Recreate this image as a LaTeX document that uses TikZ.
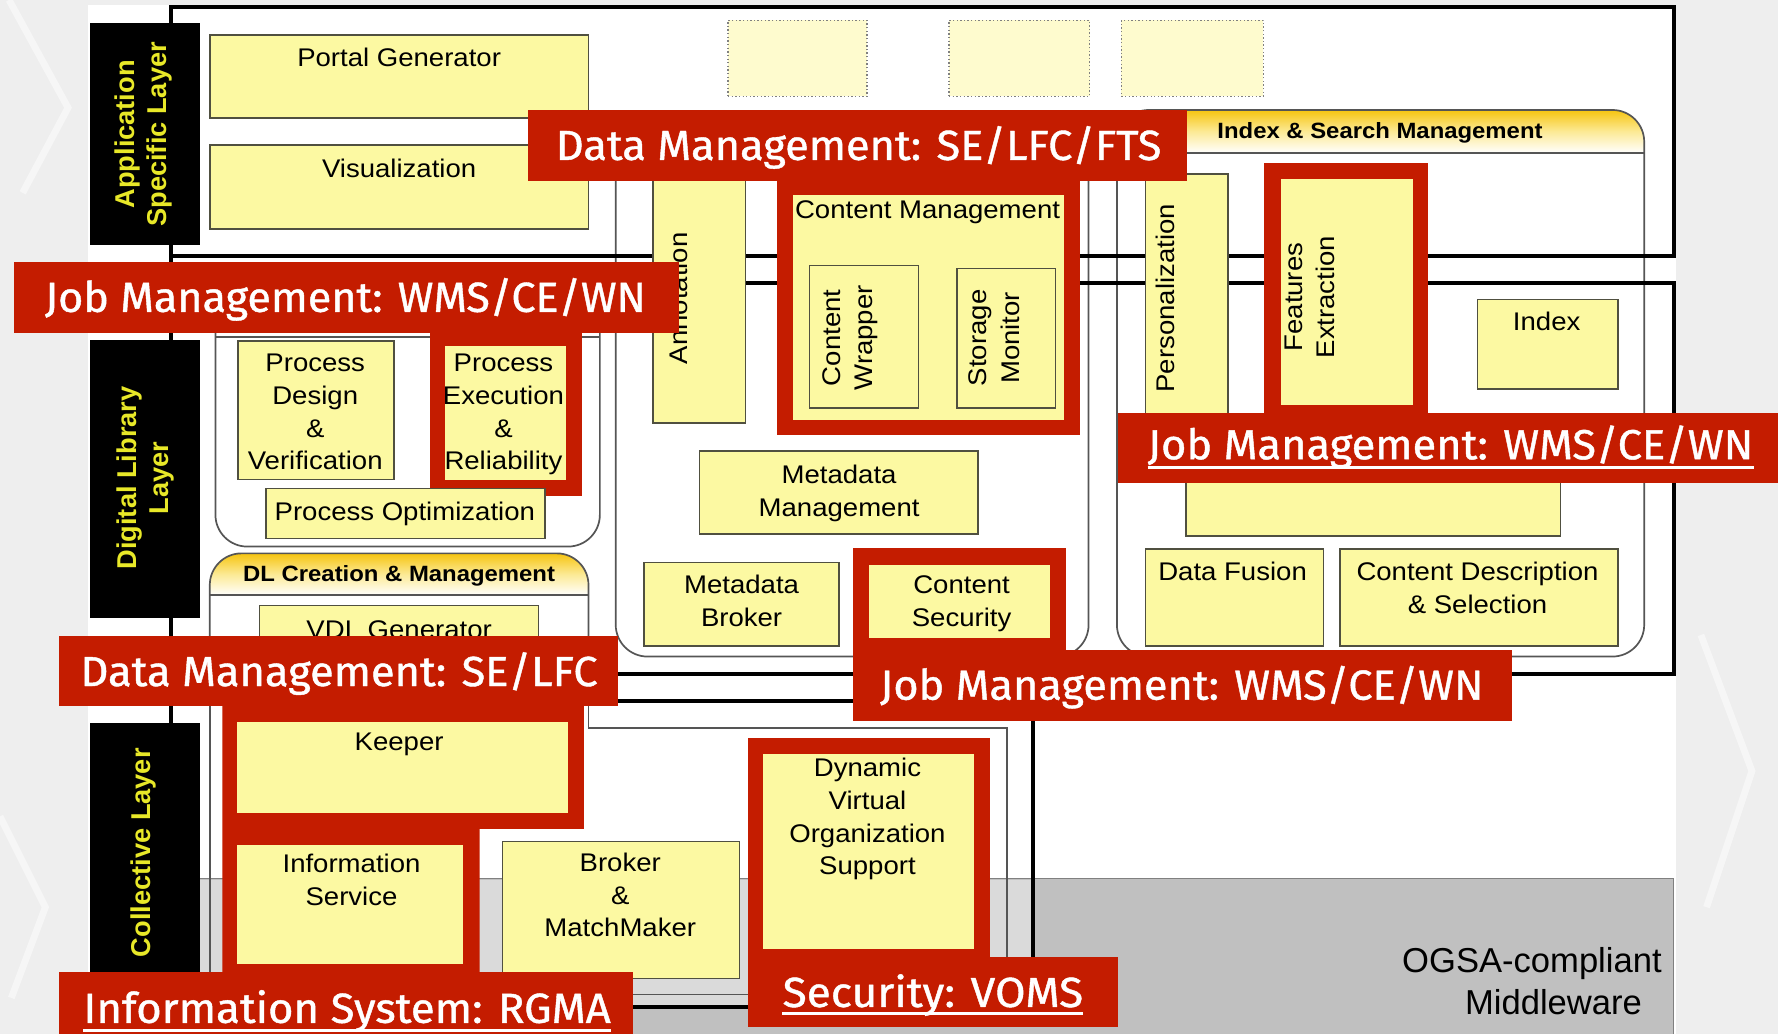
\documentclass[tikz,border=0pt]{standalone}
\usepackage{fontspec}
\setmainfont{Liberation Sans}[FakeStretch=1.08]
\newfontfamily\layfont{Liberation Sans}
\newfontfamily\lblfont[FakeBold=1]{Fira Sans}
\usetikzlibrary{fit}
\definecolor{boxfill}{RGB}{252,249,162}
\definecolor{boxedge}{RGB}{80,80,64}
\definecolor{redc}{RGB}{196,28,0}
\definecolor{layeryel}{RGB}{232,232,40}
\definecolor{bandgrey}{RGB}{192,192,192}
\definecolor{bandlight}{RGB}{218,218,218}
\definecolor{contedge}{RGB}{85,85,85}
\definecolor{bggrey}{RGB}{238,238,238}
\definecolor{hdrtop}{RGB}{246,196,16}
\definecolor{hdrmid}{RGB}{252,234,150}
\definecolor{dotfill}{RGB}{254,251,206}
\newcommand\fst{\rule{0pt}{20.09pt}}
\newcommand\lst{\rule{0pt}{19.6pt}}
\begin{document}
\begin{tikzpicture}[x=1pt,y=-1pt,
  ybox/.style={draw=boxedge, fill=boxfill, line width=1.3pt, inner sep=0pt, outer sep=0pt},
  yfill/.style={fill=boxfill, inner sep=0pt, outer sep=0pt},
  redfill/.style={fill=redc, inner sep=0pt, outer sep=0pt},
  blkfill/.style={fill=black, inner sep=0pt, outer sep=0pt},
  dotbox/.style={draw=gray, dotted, fill=dotfill, line width=1.2pt, inner sep=0pt, outer sep=0pt},
  btxt/.style={font=\fontsize{22.5}{28.7}\selectfont, align=center, inner sep=0pt, execute at begin node=\strut},
  htxt/.style={font=\bfseries\fontsize{19.5}{24}\selectfont, inner sep=0pt, anchor=base},
  laytxt/.style={font=\layfont\bfseries\fontsize{24}{28}\selectfont, text=layeryel, align=center, inner sep=0pt, rotate=90},
  lbltxt/.style={font=\lblfont\fontsize{37}{44}\selectfont, text=white, inner sep=0pt, anchor=base west},
  uline/.style={draw=white, line width=2.6pt},
  blkframe/.style={draw=black, line width=3.5pt},
  contline/.style={draw=contedge, line width=1.5pt},
]
\useasboundingbox (0,0) rectangle (1568,912);
% ---------- background ----------
\fill[bggrey] (0,0) rectangle (1568,912);
\draw[white, line width=6pt, opacity=0.5] (8,0) -- (60,95) -- (20,170);
\draw[white, line width=6pt, opacity=0.5] (0,720) -- (40,800) -- (10,880);
\draw[white, line width=6pt, opacity=0.5] (1500,560) -- (1545,680) -- (1505,800);
\fill[white] (78,4) rectangle (1478,912);
% ---------- middleware band ----------
\fill[bandgrey] (176,775) rectangle (1476,912);
\draw[gray, line width=1pt] (176,775) -- (1476,775) -- (1476,912);
\fill[bandlight] (176,776) rectangle (911,888);
% ---------- containers ----------
\draw[contline, rounded corners=28pt] (190,250) rectangle (529,482);
\draw[contline] (190,297) -- (529,297);
\draw[contline, rounded corners=28pt] (543,99) rectangle (960,579);
\draw[contline] (543,136) -- (960,136);
\begin{scope}
  \clip[rounded corners=28pt] (985,97) rectangle (1450,579);
  \shade[top color=hdrtop, bottom color=white, middle color=hdrmid] (985,97) rectangle (1450,135);
\end{scope}
\draw[contline, rounded corners=28pt] (985,97) rectangle (1450,579);
\draw[contline] (985,135) -- (1450,135);
\begin{scope}
  \clip[rounded corners=28pt] (185,488) rectangle (519,640);
  \shade[top color=hdrtop, bottom color=white, middle color=hdrmid] (185,488) rectangle (519,525);
\end{scope}
\draw[contline, rounded corners=28pt] (185,620) -- (185,488) -- (519,488) -- (519,620);
\draw[contline] (185,525) -- (519,525);
\draw[contline] (519,600) -- (519,642) -- (888,642) -- (888,877) -- (185,877) -- (185,600);
% ---------- layer frames ----------
\draw[blkframe] (151,6) rectangle (1476,226);
\draw[blkframe] (151,250) rectangle (1476,594);
\draw[blkframe] (151,618) rectangle (911,888);
\draw[blkframe] (151,6) -- (151,888);
% ---------- layer labels ----------
\node[blkfill, fit={(79,20.6) (176,216)}] (layapp) {};
\node[blkfill, fit={(79,300) (176,545)}] (laydl) {};
\node[blkfill, fit={(79,638) (176,912)}] (laycol) {};
\node[laytxt, anchor=north] (tlayapp) at (99,118.5) {\lst Application\\Specific Layer};
\node[laytxt, anchor=north] (tlaydl) at (100.4,421.5) {\lst Digital Library\\Layer};
\node[laytxt, anchor=base] (tlaycol) at (133,752) {Collective Layer};
% ---------- dotted placeholders ----------
\node[dotbox, fit={(642,18) (764.5,85)}] (dot1) {};
\node[dotbox, fit={(837,18) (961,85)}] (dot2) {};
\node[dotbox, fit={(989,18) (1114,85)}] (dot3) {};
% ---------- application layer ----------
\node[ybox, fit={(185,31) (519,104)}] (pg) {};
\node[btxt, anchor=north] (tpg) at (352,38.7) {Portal Generator};
\node[ybox, fit={(185,128) (519,202)}] (vis) {};
\node[btxt, anchor=north] (tvis) at (352,136.6) {Visualization};
% ---------- digital library: middle ----------
\node[ybox, fit={(576,150) (657.6,373)}] (ann) {};
\node[btxt, rotate=90, anchor=base] (tann) at (606,263) {Annotation};
\node[redfill, fit={(685,150) (952,384)}] (cmred) {};
\node[yfill, fit={(699,172) (938,370)}] (cm) {};
\node[btxt, anchor=north] (tcm) at (818,172.4) {Content Management};
\node[ybox, fit={(714,234) (810,360)}] (cw) {};
\node[btxt, rotate=90, anchor=north] (tcw) at (720.6,298) {\fst Content\\Wrapper};
\node[ybox, fit={(844,237) (931,360)}] (sm) {};
\node[btxt, rotate=90, anchor=north] (tsm) at (850,298) {\fst Storage\\Monitor};
\node[ybox, fit={(617,397.6) (862.6,471)}] (mm) {};
\node[btxt, anchor=north] (tmm) at (740,406.1) {\fst Metadata\\Management};
\node[ybox, fit={(568,496) (740,569.6)}] (mb) {};
\node[btxt, anchor=north] (tmb) at (654,503.4) {\fst Metadata\\Broker};
\node[redfill, fit={(752,483) (940,580)}] (csred) {};
\node[yfill, fit={(766,498) (926,562.5)}] (cs) {};
\node[btxt, anchor=north] (tcs) at (848,503.4) {\fst Content\\Security};
% ---------- digital library: index & search ----------
\node[htxt] (tism) at (1217,122) {Index \& Search Management};
\node[ybox, fit={(1010,153.6) (1083,400)}] (pers) {};
\node[btxt, rotate=90, anchor=base] (tpers) at (1036,263) {Personalization};
\node[redfill, fit={(1115,144) (1259,370)}] (fered) {};
\node[yfill, fit={(1130,158) (1246,357)}] (fe) {};
\node[btxt, rotate=90, anchor=north] (tfe) at (1128,262) {\fst Features\\Extraction};
\node[ybox, fit={(1303,264) (1427,343)}] (idx) {};
\node[btxt, anchor=north] (tidx) at (1364,270.9) {Index};
\node[ybox, fit={(1046,400) (1376,472.6)}] (wide) {};
\node[ybox, fit={(1010,484) (1167,569.6)}] (df) {};
\node[btxt, anchor=north] (tdf) at (1087,491.9) {Data Fusion};
\node[ybox, fit={(1181.6,484) (1427,569.6)}] (cds) {};
\node[btxt, anchor=north] (tcds) at (1303,491.9) {\fst Content Description\\\& Selection};
% ---------- digital library: process ----------
\node[ybox, fit={(210,300.6) (347.6,423)}] (pd) {};
\node[btxt, anchor=north] (tpd) at (278,307.7) {\fst Process\\Design\\\&\\Verification};
\node[redfill, fit={(379,285) (513,437)}] (pered) {};
\node[yfill, fit={(392,305) (499,423)}] (pe) {};
\node[btxt, anchor=north] (tpe) at (444,307.7) {\fst Process\\Execution\\\&\\Reliability};
\node[ybox, fit={(234.6,431) (480.6,475)}] (po) {};
\node[btxt, anchor=north] (tpo) at (357,438.9) {Process Optimization};
% ---------- DL creation ----------
\node[htxt] (tdlc) at (352,513) {DL Creation \& Management};
\node[ybox, fit={(229,534) (475,600)}] (vdl) {};
\node[btxt, anchor=north] (tvdl) at (352,542.7) {VDL Generator};
% ---------- collective layer ----------
\fill[redc] (196,620) -- (515,620) -- (515,731) -- (423,731) -- (423,860) -- (196,860) -- cycle;
\node[yfill, fit={(209,637) (501,717)}] (keep) {};
\node[btxt, anchor=north] (tkeep) at (352,641.3) {Keeper};
\node[yfill, fit={(209,745) (408,850)}] (info) {};
\node[btxt, anchor=north] (tinfo) at (310,749.2) {\fst Information\\Service};
\node[ybox, fit={(443,742) (652,863)}] (brk) {};
\node[btxt, anchor=north] (tbrk) at (547,748.6) {\fst Broker\\\&\\MatchMaker};
\node[redfill, fit={(660,651) (873,850)}] (dvored) {};
\node[yfill, fit={(673,665) (859,837)}] (dvo) {};
\node[btxt, anchor=north] (tdvo) at (765,664.9) {\fst Dynamic\\Virtual\\Organization\\Support};
\node[font=\layfont\fontsize{30.5}{37}\selectfont, align=center, inner sep=0pt, anchor=base] (togsa) at (1351,895) {OGSA-compliant\\\hspace*{38pt}Middleware};
% ---------- red labels ----------
\node[redfill, fit={(466,97) (1047,160)}] (l1) {};
\node[lbltxt] (tl1) at (490,141) {\resizebox{534pt}{\height}{Data Management: SE/LFC/FTS}};
\node[redfill, fit={(12,231) (599,294)}] (l2) {};
\node[lbltxt] (tl2) at (39.5,275) {\resizebox{530pt}{\height}{Job Management: WMS/CE/WN}};
\node[redfill, fit={(986,364) (1568,426)}] (l3) {};
\node[lbltxt] (tl3) at (1012,405) {\resizebox{534pt}{\height}{Job Management: WMS/CE/WN}};
\draw[uline] ([yshift=-7pt]tl3.base west) -- ([yshift=-7pt]tl3.base east);
\node[redfill, fit={(52,561) (545,623)}] (l4) {};
\node[lbltxt] (tl4) at (70.8,605) {\resizebox{456pt}{\height}{Data Management: SE/LFC}};
\node[redfill, fit={(752,573) (1333,636)}] (l5) {};
\node[lbltxt] (tl5) at (776,617) {\resizebox{532pt}{\height}{Job Management: WMS/CE/WN}};
\node[redfill, fit={(52,857) (558.5,912)}] (l6) {};
\node[lbltxt] (tl6) at (73.4,902) {\resizebox{465pt}{\height}{Information System: RGMA}};
\draw[uline] ([yshift=-6.5pt]tl6.base west) -- ([yshift=-6.5pt]tl6.base east);
\node[redfill, fit={(660,844) (986,906)}] (l7) {};
\node[lbltxt] (tl7) at (690,888) {\resizebox{265pt}{\height}{Security: VOMS}};
\draw[uline] ([yshift=-6pt]tl7.base west) -- ([yshift=-6pt]tl7.base east);
\end{tikzpicture}
\end{document}
